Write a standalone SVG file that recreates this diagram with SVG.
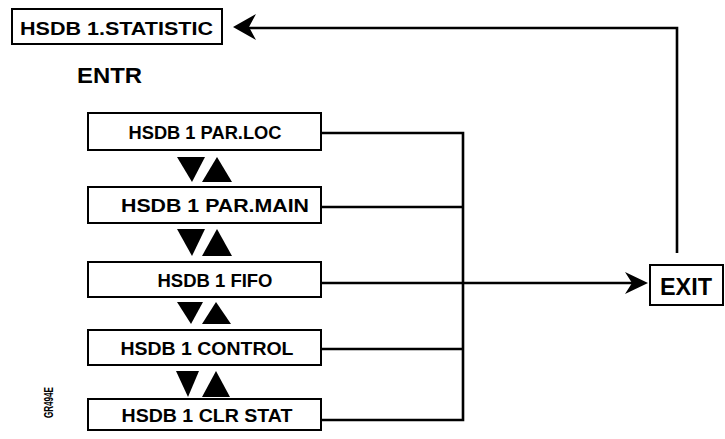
<svg xmlns="http://www.w3.org/2000/svg" width="725" height="439" viewBox="0 0 725 439">
<style>
.box{fill:#fff;stroke:#000;stroke-width:2}
.t{font-family:"Liberation Sans",Arial,sans-serif;font-weight:bold;fill:#000}
.bt{font-size:19px;text-anchor:middle}
.ln{fill:none;stroke:#000;stroke-width:2.6}
.tri{fill:#000}
</style>
<rect width="725" height="439" fill="#fff"/>
<g id="statistic">
<rect class="box" x="12" y="9" width="210" height="35"/>
<text class="t" x="20" y="35" font-size="19" textLength="193" lengthAdjust="spacingAndGlyphs">HSDB 1.STATISTIC</text>
</g>
<g id="entr">
<text class="t" x="77" y="83" font-size="22" textLength="65" lengthAdjust="spacingAndGlyphs">ENTR</text>
</g>
<g id="parloc">
<rect class="box" x="88" y="113" width="233" height="37"/>
<text class="t bt" x="205" y="138.5" textLength="153" lengthAdjust="spacingAndGlyphs">HSDB 1 PAR.LOC</text>
</g>
<g id="parmain">
<rect class="box" x="88" y="187" width="233" height="36"/>
<text class="t bt" x="215" y="212" textLength="188" lengthAdjust="spacingAndGlyphs">HSDB 1 PAR.MAIN</text>
</g>
<g id="fifo">
<rect class="box" x="88" y="262" width="233" height="35"/>
<text class="t bt" x="215" y="286.5" textLength="115" lengthAdjust="spacingAndGlyphs">HSDB 1 FIFO</text>
</g>
<g id="control">
<rect class="box" x="88" y="330" width="233" height="35"/>
<text class="t bt" x="207" y="354.5" textLength="173" lengthAdjust="spacingAndGlyphs">HSDB 1 CONTROL</text>
</g>
<g id="clrstat">
<rect class="box" x="88" y="399" width="233" height="31"/>
<text class="t bt" x="207" y="421.5" textLength="171" lengthAdjust="spacingAndGlyphs">HSDB 1 CLR STAT</text>
</g>
<g id="exit">
<rect class="box" x="650" y="265" width="73" height="40"/>
<text class="t" x="660" y="295" font-size="24" textLength="52" lengthAdjust="spacingAndGlyphs">EXIT</text>
</g>
<g id="updown">
<polygon class="tri" points="177,157 205,157 192,182"/>
<polygon class="tri" points="202,182 232,182 217,157"/>
<polygon class="tri" points="177,229 205,229 192,256"/>
<polygon class="tri" points="202,256 232,256 217,229"/>
<polygon class="tri" points="177,302 203,302 191,324"/>
<polygon class="tri" points="202,324 231,324 216,302"/>
<polygon class="tri" points="176,371 199,371 188,397"/>
<polygon class="tri" points="202,397 230,397 216,371"/>
</g>
<g id="connectors">
<path class="ln" d="M321,133 H463 V420 H321"/>
<path class="ln" d="M321,207 H463"/>
<path class="ln" d="M321,283 H463"/>
<path class="ln" d="M321,349 H463"/>
<path class="ln" d="M463,283 H634"/>
<path d="M648,283 L625,272 L632,283 L625,294 Z" fill="#000"/>
<path class="ln" d="M677,253 V28 H248"/>
<path d="M233,27 L256,14 L249,27 L256,40 Z" fill="#000"/>
</g>
<text class="t" transform="translate(53,418) rotate(-90)" font-size="12" textLength="31" lengthAdjust="spacingAndGlyphs">GR494E</text>
</svg>
